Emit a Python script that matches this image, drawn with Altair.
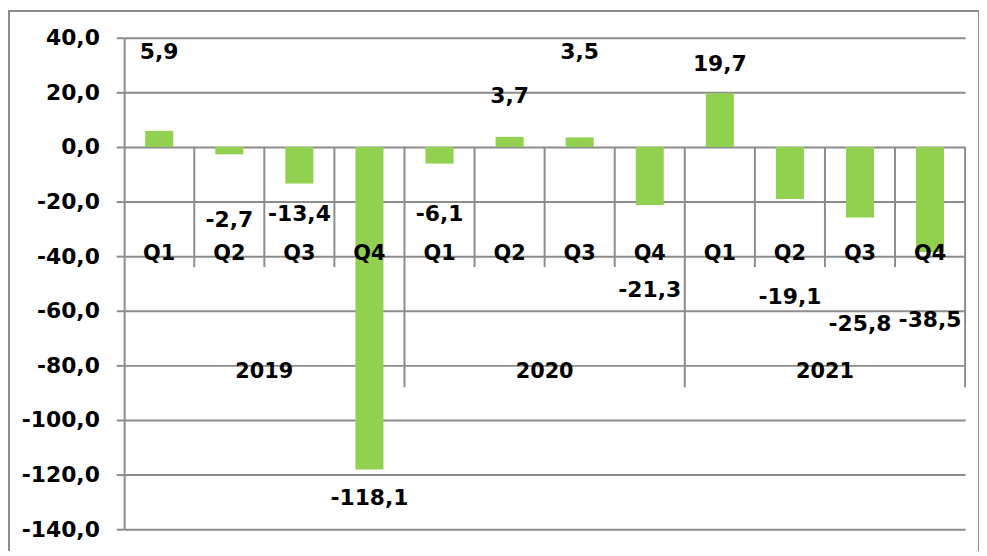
import altair as alt
import pandas as pd

# ---- data ----
years = ["2019", "2020", "2021"]
quarters = ["Q1", "Q2", "Q3", "Q4"]
values = [5.9, -2.7, -13.4, -118.1, -6.1, 3.7, 3.5, -21.3, 19.7, -19.1, -25.8, -38.5]
# vertical position (in axis units) where each data label sits in the reference
label_y = [34.9, -26.9, -24.4, -128.7, -24.4, 18.5, 34.9, -52.4, 30.5, -54.9, -65.0, -63.3]
y_ticks = [-140, -120, -100, -80, -60, -40, -20, 0, 20, 40]

FONT = "DejaVu Sans"
FS = 22
FS_CAT = 21
GRID = "#8c8c8c"
W, H = 847, 495

n = len(values)
rows = []
for i, v in enumerate(values):
    rows.append({
        "i": i,
        "x0": i - 0.2,
        "x1": i + 0.2,
        "value": v,
        "quarter": quarters[i % 4],
        "year": years[i // 4],
        "label": f"{v:.1f}".replace(".", ","),
        "label_y": label_y[i],
    })
df = pd.DataFrame(rows)

year_df = pd.DataFrame({
    "year": years,
    "xc": [k * 4 + 1.5 for k in range(len(years))],
    "yy": [-82.5] * len(years),
})
sep_df = pd.DataFrame({
    "xs": [i + 0.5 for i in range(n)],
    "top": [0] * n,
    "bottom": [-88 if (i + 1) % 4 == 0 else -44 for i in range(n)],
})

xs = alt.Scale(domain=[-0.5, n - 0.5], nice=False, zero=False)
ys = alt.Scale(domain=[-140, 40], nice=False, zero=False)

yaxis = alt.Axis(
    values=y_ticks,
    labelExpr="replace((datum.value < 0 ? '-' : '') + format(abs(datum.value), '.1f'), '.', ',')",
    grid=True, gridColor=GRID, gridWidth=2,
    domain=True, domainColor=GRID, domainWidth=2,
    ticks=True, tickColor=GRID, tickWidth=2, tickSize=8,
    labelFont=FONT, labelFontSize=FS, labelColor="#000000", labelPadding=17,
    labelFontWeight="bold",
    title=None,
)

base = alt.Chart(df)

border = alt.Chart(pd.DataFrame({"k": [0]})).mark_rect(
    fill=None, stroke=GRID, strokeWidth=2
).encode(
    x=alt.value(-116), x2=alt.value(W + 14), y=alt.value(-27), y2=alt.value(H + 80)
)

bars = base.mark_bar(color="#92D050").encode(
    x=alt.X("x0:Q", scale=xs, axis=None),
    x2="x1:Q",
    y=alt.Y("value:Q", scale=ys, axis=yaxis),
    y2=alt.datum(0),
)

seps = alt.Chart(sep_df).mark_rule(color=GRID, strokeWidth=2).encode(
    x=alt.X("xs:Q", scale=xs, axis=None),
    y=alt.Y("top:Q", scale=ys),
    y2="bottom:Q",
)

qlabels = base.mark_text(
    font=FONT, fontSize=FS_CAT, fontWeight="bold", color="#000000", baseline="middle", dy=-2
).encode(
    x=alt.X("i:Q", scale=xs, axis=None),
    y=alt.Y("yq:Q", scale=ys),
    text="quarter:N",
).transform_calculate(yq="-40")

ylabels = alt.Chart(year_df).mark_text(
    font=FONT, fontSize=FS_CAT, fontWeight="bold", color="#000000", baseline="middle"
).encode(
    x=alt.X("xc:Q", scale=xs, axis=None),
    y=alt.Y("yy:Q", scale=ys),
    text="year:N",
)

dlabels = base.mark_text(
    font=FONT, fontSize=FS, fontWeight="bold", color="#000000", baseline="middle"
).encode(
    x=alt.X("i:Q", scale=xs, axis=None),
    y=alt.Y("label_y:Q", scale=ys),
    text="label:N",
)

chart = alt.layer(border, bars, seps, qlabels, ylabels, dlabels).properties(
    width=W, height=H,
    autosize=alt.AutoSizeParams(type="none"),
    padding={"left": 117, "top": 28, "right": 14, "bottom": 20},
    background="white",
).configure_view(stroke=None)

chart.save("out.html", embed_options={"renderer": "svg", "actions": False})
